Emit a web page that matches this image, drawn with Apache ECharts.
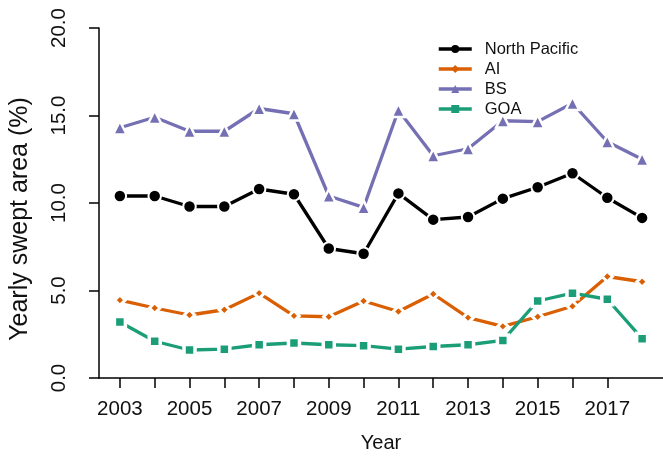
<!DOCTYPE html>
<html>
<head>
<meta charset="utf-8">
<script src="https://cdn.jsdelivr.net/npm/echarts@6/dist/echarts.min.js"></script>
<style>
  html, body { margin: 0; padding: 0; background: #fff; }
  #chart { width: 663px; height: 461px; }
</style>
</head>
<body>
<div id="chart"></div>
<script>
// Yearly swept area by region, 2003-2018
const years = [2003, 2004, 2005, 2006, 2007, 2008, 2009, 2010, 2011, 2012, 2013, 2014, 2015, 2016, 2017, 2018];
const northPacific = [10.4, 10.4, 9.8, 9.8, 10.8, 10.5, 7.4, 7.1, 10.55, 9.05, 9.2, 10.25, 10.9, 11.7, 10.3, 9.15];
const ai = [4.45, 4.0, 3.6, 3.9, 4.85, 3.55, 3.5, 4.4, 3.8, 4.8, 3.45, 2.95, 3.5, 4.1, 5.8, 5.5];
const bs = [14.3, 14.9, 14.1, 14.1, 15.4, 15.1, 10.4, 9.75, 15.3, 12.7, 13.1, 14.7, 14.65, 15.7, 13.5, 12.5];
const goa = [3.2, 2.1, 1.6, 1.65, 1.9, 2.0, 1.9, 1.85, 1.65, 1.8, 1.9, 2.15, 4.4, 4.85, 4.5, 2.25];

const tickYears = [2003, 2004, 2005, 2006, 2007, 2008, 2009, 2010, 2011, 2012, 2013, 2014, 2015, 2016, 2017];
const labelYears = [2003, 2005, 2007, 2009, 2011, 2013, 2015, 2017];

const FONT = 'Liberation Sans, Arial, sans-serif';

function pairs(vals) {
  return years.map((y, i) => [y, vals[i]]);
}

// White symbol borders leave a small gap where the line meets each point
function lineSeries(name, vals, color, symbol, size, border) {
  return {
    name: name,
    type: 'line',
    data: pairs(vals),
    symbol: symbol,
    symbolSize: size,
    showSymbol: true,
    animation: false,
    lineStyle: { color: color, width: 3.3 },
    itemStyle: { color: color, borderColor: '#ffffff', borderWidth: border, opacity: 1 },
    emphasis: { disabled: true }
  };
}

const chart = echarts.init(document.getElementById('chart'), null, { renderer: 'canvas' });

chart.setOption({
  backgroundColor: '#ffffff',
  animation: false,
  grid: { left: 92, top: 28, width: 574, height: 350, containLabel: false },
  legend: {
    left: 437,
    top: 39,
    orient: 'vertical',
    padding: 0,
    itemGap: 0,
    itemWidth: 33,
    itemHeight: 10,
    itemStyle: { borderWidth: 0 },
    lineStyle: { width: 3.5 },
    textStyle: { fontFamily: FONT, fontSize: 16.5, color: '#111', lineHeight: 20, padding: [0, 0, 0, 8] },
    data: ['North Pacific', 'AI', 'BS', 'GOA']
  },
  xAxis: {
    type: 'value',
    min: 2002.4,
    max: 2018.6,
    name: 'Year',
    nameLocation: 'middle',
    nameGap: 55,
    nameTextStyle: { fontFamily: FONT, fontSize: 20, color: '#111' },
    splitLine: { show: false },
    axisLine: { show: true, onZero: false, lineStyle: { color: '#000', width: 1.5 } },
    axisTick: { show: true, inside: false, length: 10, lineStyle: { color: '#000', width: 1.5 }, customValues: tickYears },
    axisLabel: { fontFamily: FONT, fontSize: 20.5, color: '#111', margin: 21, customValues: labelYears, formatter: v => String(v) }
  },
  yAxis: {
    type: 'value',
    min: 0,
    max: 20,
    interval: 5,
    name: 'Yearly swept area (%)',
    nameLocation: 'middle',
    nameGap: 66,
    nameTextStyle: { fontFamily: FONT, fontSize: 25, color: '#111', padding: [0, 32, 0, 0] },
    splitLine: { show: false },
    axisLine: { show: true, lineStyle: { color: '#000', width: 1.5 } },
    axisTick: { show: true, inside: false, length: 10, lineStyle: { color: '#000', width: 1.5 } },
    axisLabel: { fontFamily: FONT, fontSize: 20.5, color: '#111', rotate: 90, margin: 29, formatter: v => v.toFixed(1) }
  },
  series: [
    lineSeries('North Pacific', northPacific, '#000000', 'circle', 12.5, 2),
    lineSeries('AI', ai, '#D95F02', 'diamond', 10.5, 3),
    lineSeries('BS', bs, '#7570B3', 'triangle', 13.5, 2.5),
    lineSeries('GOA', goa, '#1B9E77', 'rect', 11, 3.5)
  ]
});
</script>
</body>
</html>
